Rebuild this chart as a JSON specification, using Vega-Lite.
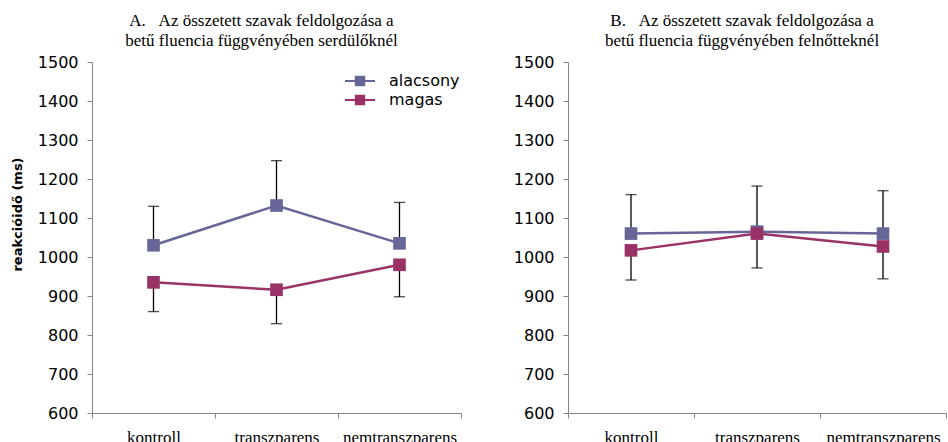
{
  "$schema": "https://vega.github.io/schema/vega-lite/v6.json",
  "padding": {"left": 11, "top": 12, "right": 0, "bottom": 0},
  "spacing": 51,
  "config": {
    "view": {"stroke": null},
    "axis": {"domainColor": "#868686", "tickColor": "#868686", "labelColor": "#000000", "grid": false}
  },
  "data": {"values": [
    {"panel": "A", "cond": "kontroll", "group": "alacsony", "mean": 1030, "end": 1130},
    {"panel": "A", "cond": "transzparens", "group": "alacsony", "mean": 1132, "end": 1247},
    {"panel": "A", "cond": "nemtranszparens", "group": "alacsony", "mean": 1035, "end": 1140},
    {"panel": "A", "cond": "kontroll", "group": "magas", "mean": 935, "end": 860},
    {"panel": "A", "cond": "transzparens", "group": "magas", "mean": 916, "end": 829},
    {"panel": "A", "cond": "nemtranszparens", "group": "magas", "mean": 980, "end": 898},
    {"panel": "B", "cond": "kontroll", "group": "alacsony", "mean": 1060, "end": 1160},
    {"panel": "B", "cond": "transzparens", "group": "alacsony", "mean": 1065, "end": 1182},
    {"panel": "B", "cond": "nemtranszparens", "group": "alacsony", "mean": 1060, "end": 1170},
    {"panel": "B", "cond": "kontroll", "group": "magas", "mean": 1017, "end": 941},
    {"panel": "B", "cond": "transzparens", "group": "magas", "mean": 1060, "end": 972},
    {"panel": "B", "cond": "nemtranszparens", "group": "magas", "mean": 1027, "end": 944}
  ]},
  "resolve": {"legend": {"color": "independent"}},
  "hconcat": [
    {
      "width": 369,
      "height": 351,
      "title": {"text": ["A.\u00a0\u00a0\u00a0Az összetett szavak feldolgozása a", "betű fluencia függvényében serdülőknél"], "font": "Liberation Serif", "fontSize": 17, "fontWeight": "normal", "lineHeight": 20, "offset": 4, "dx": -15, "anchor": "middle", "color": "#000000"},
      "transform": [{"filter": "datum.panel === 'A'"}],
      "encoding": {
        "x": {"field": "cond", "type": "nominal", "sort": ["kontroll", "transzparens", "nemtranszparens"],
              "scale": {"paddingInner": 0, "paddingOuter": 0},
              "axis": {"title": null, "labelAngle": 0, "tickBand": "extent", "tickSize": 5, "labelPadding": 11, "labelFont": "Liberation Serif", "labelFontSize": 17}},
        "y": {"field": "mean", "type": "quantitative", "scale": {"domain": [600, 1500], "nice": false, "zero": false},
              "axis": {"values": [600, 700, 800, 900, 1000, 1100, 1200, 1300, 1400, 1500], "format": "d", "tickSize": 5, "labelPadding": 9, "labelFont": "DejaVu Sans", "labelFontSize": 16,
                       "title": "reakcióidő (ms)", "titleFont": "DejaVu Sans", "titleFontSize": 13, "titleFontWeight": "bold", "titleColor": "#000000", "titleX": -68, "titleY": 152}}
      },
      "layer": [
        {"mark": {"type": "rule", "color": "#000000", "strokeWidth": 1.3}, "encoding": {"y2": {"field": "end"}}},
        {"mark": {"type": "tick", "color": "#000000", "size": 11, "thickness": 1.3, "orient": "horizontal"}, "encoding": {"y": {"field": "end", "type": "quantitative"}}},
        {"mark": {"type": "line", "strokeWidth": 2.5}, "encoding": {"color": {"field": "group", "type": "nominal", "scale": {"domain": ["alacsony", "magas"], "range": ["#666699", "#993366"]}}}},
        {"mark": {"type": "point", "shape": "square", "filled": true, "size": 160, "opacity": 1},
         "encoding": {"color": {"field": "group", "type": "nominal", "scale": {"domain": ["alacsony", "magas"], "range": ["#666699", "#993366"]},
           "legend": {"orient": "none", "legendX": 260, "legendY": 11, "title": null, "padding": 0, "rowPadding": 1,
                      "symbolType": "M-2.5,0H2.5M-0.7,-0.7H0.7V0.7H-0.7Z", "symbolSize": 144, "symbolStrokeWidth": 2,
                      "labelFont": "DejaVu Sans", "labelFontSize": 16, "labelOffset": 21, "labelColor": "#000000",
                      "encode": {"symbols": {"update": {"stroke": {"scale": "color", "field": "value"}, "fill": {"scale": "color", "field": "value"}, "opacity": {"value": 1}}}}}}}}
      ]
    },
    {
      "width": 378,
      "height": 351,
      "title": {"text": ["B.\u00a0\u00a0\u00a0Az összetett szavak feldolgozása a", "betű fluencia függvényében felnőtteknél"], "font": "Liberation Serif", "fontSize": 17, "fontWeight": "normal", "lineHeight": 20, "offset": 4, "dx": -15, "anchor": "middle", "color": "#000000"},
      "transform": [{"filter": "datum.panel === 'B'"}],
      "encoding": {
        "x": {"field": "cond", "type": "nominal", "sort": ["kontroll", "transzparens", "nemtranszparens"],
              "scale": {"paddingInner": 0, "paddingOuter": 0},
              "axis": {"title": null, "labelAngle": 0, "tickBand": "extent", "tickSize": 5, "labelPadding": 11, "labelFont": "Liberation Serif", "labelFontSize": 17}},
        "y": {"field": "mean", "type": "quantitative", "scale": {"domain": [600, 1500], "nice": false, "zero": false},
              "axis": {"values": [600, 700, 800, 900, 1000, 1100, 1200, 1300, 1400, 1500], "format": "d", "tickSize": 5, "labelPadding": 9, "labelFont": "DejaVu Sans", "labelFontSize": 16, "title": null}}
      },
      "layer": [
        {"mark": {"type": "rule", "color": "#000000", "strokeWidth": 1.3}, "encoding": {"y2": {"field": "end"}}},
        {"mark": {"type": "tick", "color": "#000000", "size": 11, "thickness": 1.3, "orient": "horizontal"}, "encoding": {"y": {"field": "end", "type": "quantitative"}}},
        {"mark": {"type": "line", "strokeWidth": 2.5}, "encoding": {"color": {"field": "group", "type": "nominal", "scale": {"domain": ["alacsony", "magas"], "range": ["#666699", "#993366"]}, "legend": null}}},
        {"mark": {"type": "point", "shape": "square", "filled": true, "size": 160, "opacity": 1},
         "encoding": {"color": {"field": "group", "type": "nominal", "scale": {"domain": ["alacsony", "magas"], "range": ["#666699", "#993366"]}, "legend": null}}}
      ]
    }
  ]
}
